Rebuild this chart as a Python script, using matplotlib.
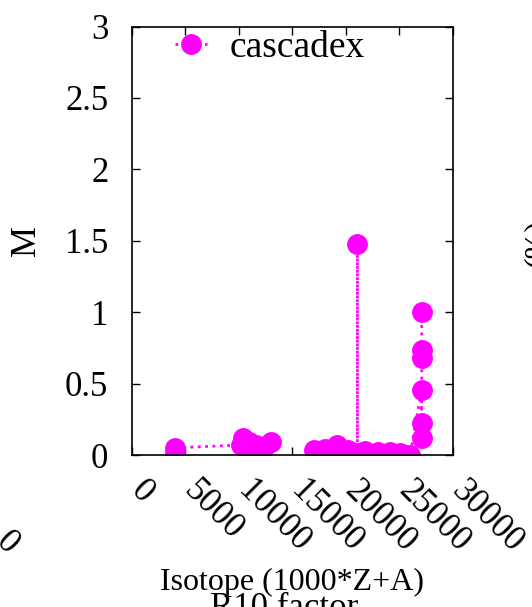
import matplotlib
matplotlib.use('Agg')
import matplotlib.pyplot as plt
import matplotlib.transforms as mtrans
import numpy as np

plt.rcParams['font.family'] = ['Liberation Serif', 'DejaVu Serif']

# isotope (1000*Z+A) and M values
iso_1 = [4009, 4010]
m_1 = [0.005, 0.05]

iso_2 = [10200, 10400, 10900, 11100, 11600, 12000, 12400, 13000]
m_2 = [0.07, 0.12, 0.09, 0.01, 0.07, 0.01, 0.06, 0.09]

iso_3 = [17030, 17500, 18050, 18500, 19150, 19600, 20200, 21060, 21070, 21075,
         21790, 22300, 23000, 23500, 24120, 24600, 25050, 25500, 26000,
         27060, 27080, 27080, 27080, 27080, 27080]
m_3 = [0.035, 0.0, 0.04, 0.0, 0.07, 0.01, 0.035, 0.01, 1.48, 0.0,
       0.03, 0.0, 0.02, 0.0, 0.02, 0.0, 0.015, 0.0, 0.0,
       0.455, 0.121, 0.222, 0.677, 0.736, 1.004]

xticks = [0, 5000, 10000, 15000, 20000, 25000, 30000]
xticklabels = ['0', '5000', '10000', '15000', '20000', '25000', '30000']
yticks = [0, 0.5, 1, 1.5, 2, 2.5, 3]
yticklabels = ['0', '0.5', '1', '1.5', '2', '2.5', '3']

fig = plt.figure(figsize=(5.32, 6.07), dpi=100)
ax = fig.add_axes([0.248, 0.2504, 0.6035, 0.7059])

# gap between second and third group (line is broken there)
x = iso_1 + iso_2 + [np.nan] + iso_3
y = m_1 + m_2 + [np.nan] + m_3
ax.plot(x, y, color='#ff00ff', linestyle=':', linewidth=2, marker='o',
        markersize=14, label='cascadex')

ax.set_xlim(0, 30000)
ax.set_ylim(0, 3)
ax.set_xticks(xticks)
ax.set_xticklabels(xticklabels, rotation=-45, ha='left', va='top', fontsize=25)
ax.set_yticks(yticks)
ax.set_yticklabels(yticklabels, fontsize=25)
ax.tick_params(direction='in', length=6, width=1, top=True, right=True)
ax.tick_params(axis='x', pad=14)
ax.tick_params(axis='y', pad=17)
for s in ax.spines.values():
    s.set_linewidth(1.2)

# nudge the slanted x labels a bit to the left like in gnuplot
shift = mtrans.ScaledTranslation(-0.08, 0.0, fig.dpi_scale_trans)
for lbl in ax.get_xticklabels():
    lbl.set_transform(lbl.get_transform() + shift)

ax.set_ylabel('M', fontsize=25, labelpad=16)
ax.set_xlabel('Isotope (1000*Z+A)', fontsize=23, labelpad=6)

ax.legend(loc='upper left', bbox_to_anchor=(0.135, 0.99), frameon=False,
          fontsize=27, numpoints=1, handlelength=0.85, handletextpad=0.6,
          borderpad=0, borderaxespad=0)

# pieces of the neighbouring panels that are cut off by the crop
fig.text(0.535, -0.03, 'R10 factor', fontsize=25, ha='center', va='bottom')
fig.text(0.982, 0.60, '(%)', fontsize=23, rotation=90, ha='left', va='center')
fig.text(-0.02, 0.105, '0', fontsize=25, rotation=-45, ha='left', va='center')

fig.savefig('out.png', dpi=100)
